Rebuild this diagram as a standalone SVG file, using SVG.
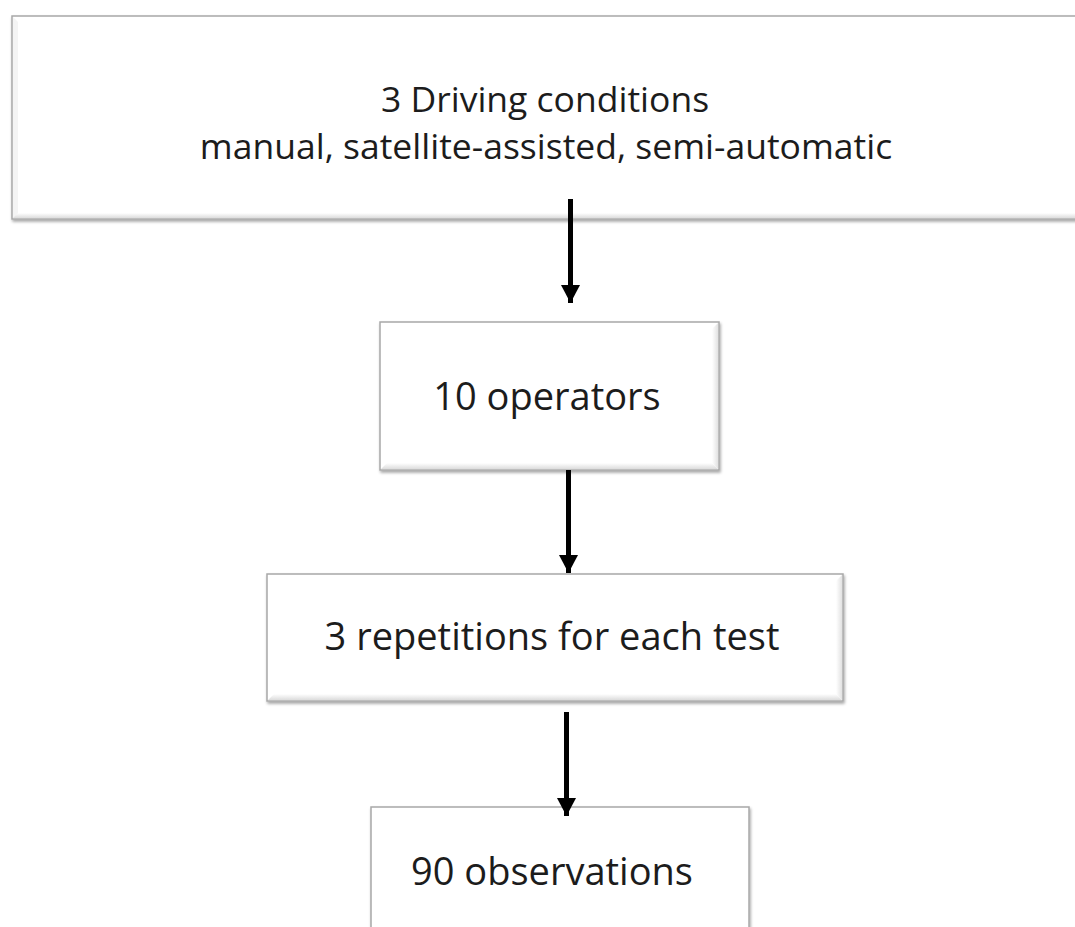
<svg xmlns="http://www.w3.org/2000/svg" width="1075" height="927" viewBox="0 0 1075 927">
  <defs>
    <filter id="sh" x="-5%" y="-10%" width="110%" height="125%">
      <feGaussianBlur in="SourceAlpha" stdDeviation="1.5"/>
      <feOffset dx="1" dy="2" result="b"/>
      <feComponentTransfer><feFuncA type="linear" slope="0.35"/></feComponentTransfer>
      <feMerge><feMergeNode/><feMergeNode in="SourceGraphic"/></feMerge>
    </filter>
    <linearGradient id="bevB" x1="0" y1="0" x2="0" y2="1">
      <stop offset="0" stop-color="#ffffff"/>
      <stop offset="1" stop-color="#dcdcdc"/>
    </linearGradient>
    <linearGradient id="bevR" x1="0" y1="0" x2="1" y2="0">
      <stop offset="0" stop-color="#ffffff"/>
      <stop offset="1" stop-color="#e2e2e2"/>
    </linearGradient>
    <marker id="ah" viewBox="0 0 18 19" markerUnits="userSpaceOnUse" markerWidth="18" markerHeight="19" refX="18" refY="9.5" orient="auto">
      <path d="M0,0 L18,9.5 L0,19 Z" fill="#000"/>
    </marker>
  </defs>
  <style>
    .box { fill: #ffffff; stroke: #a8a8a8; stroke-width: 1.5; }
    .lbl { font-family: "Open Sans", "Noto Sans", "DejaVu Sans", sans-serif; fill: #1c1c1c; text-anchor: middle; }
    .big { font-size: 38px; }
    .top { font-size: 35.5px; }
    .conn { stroke: #000; stroke-width: 5; fill: none; marker-end: url(#ah); }
  </style>
  <rect width="1075" height="927" fill="#ffffff"/>

  <g id="node-conditions">
    <rect class="box" x="12" y="16" width="1100" height="203" filter="url(#sh)"/>
    <polygon points="13,213 1100,213 1100,218 13,218" fill="url(#bevB)"/>
    <polygon points="13,17 18,22 18,213 13,218" fill="#f4f4f4"/>
    <text class="lbl top" x="545" y="112">3 Driving conditions</text>
    <text class="lbl top" x="546" y="159">manual, satellite-assisted, semi-automatic</text>
  </g>

  <g id="node-operators">
    <rect class="box" x="380" y="322" width="339" height="148" filter="url(#sh)"/>
    <polygon points="381,469 387,463 712,463 718,469" fill="url(#bevB)"/>
    <polygon points="718,323 712,329 712,463 718,469" fill="url(#bevR)"/>
    <text class="lbl big" x="547" y="410">10 operators</text>
  </g>

  <g id="node-repetitions">
    <rect class="box" x="267" y="574" width="576" height="127" filter="url(#sh)"/>
    <polygon points="268,700 274,694 836,694 842,700" fill="url(#bevB)"/>
    <polygon points="842,575 836,581 836,694 842,700" fill="url(#bevR)"/>
    <text class="lbl big" x="552" y="650">3 repetitions for each test</text>
  </g>

  <g id="node-observations">
    <rect class="box" x="371" y="807" width="378" height="140" filter="url(#sh)"/>
    <text class="lbl big" x="552" y="885">90 observations</text>
  </g>

  <g id="connectors">
    <line class="conn" x1="570.5" y1="199" x2="570.5" y2="303"/>
    <line class="conn" x1="568.5" y1="470" x2="568.5" y2="573"/>
    <line class="conn" x1="566.5" y1="712" x2="566.5" y2="816"/>
  </g>
</svg>
